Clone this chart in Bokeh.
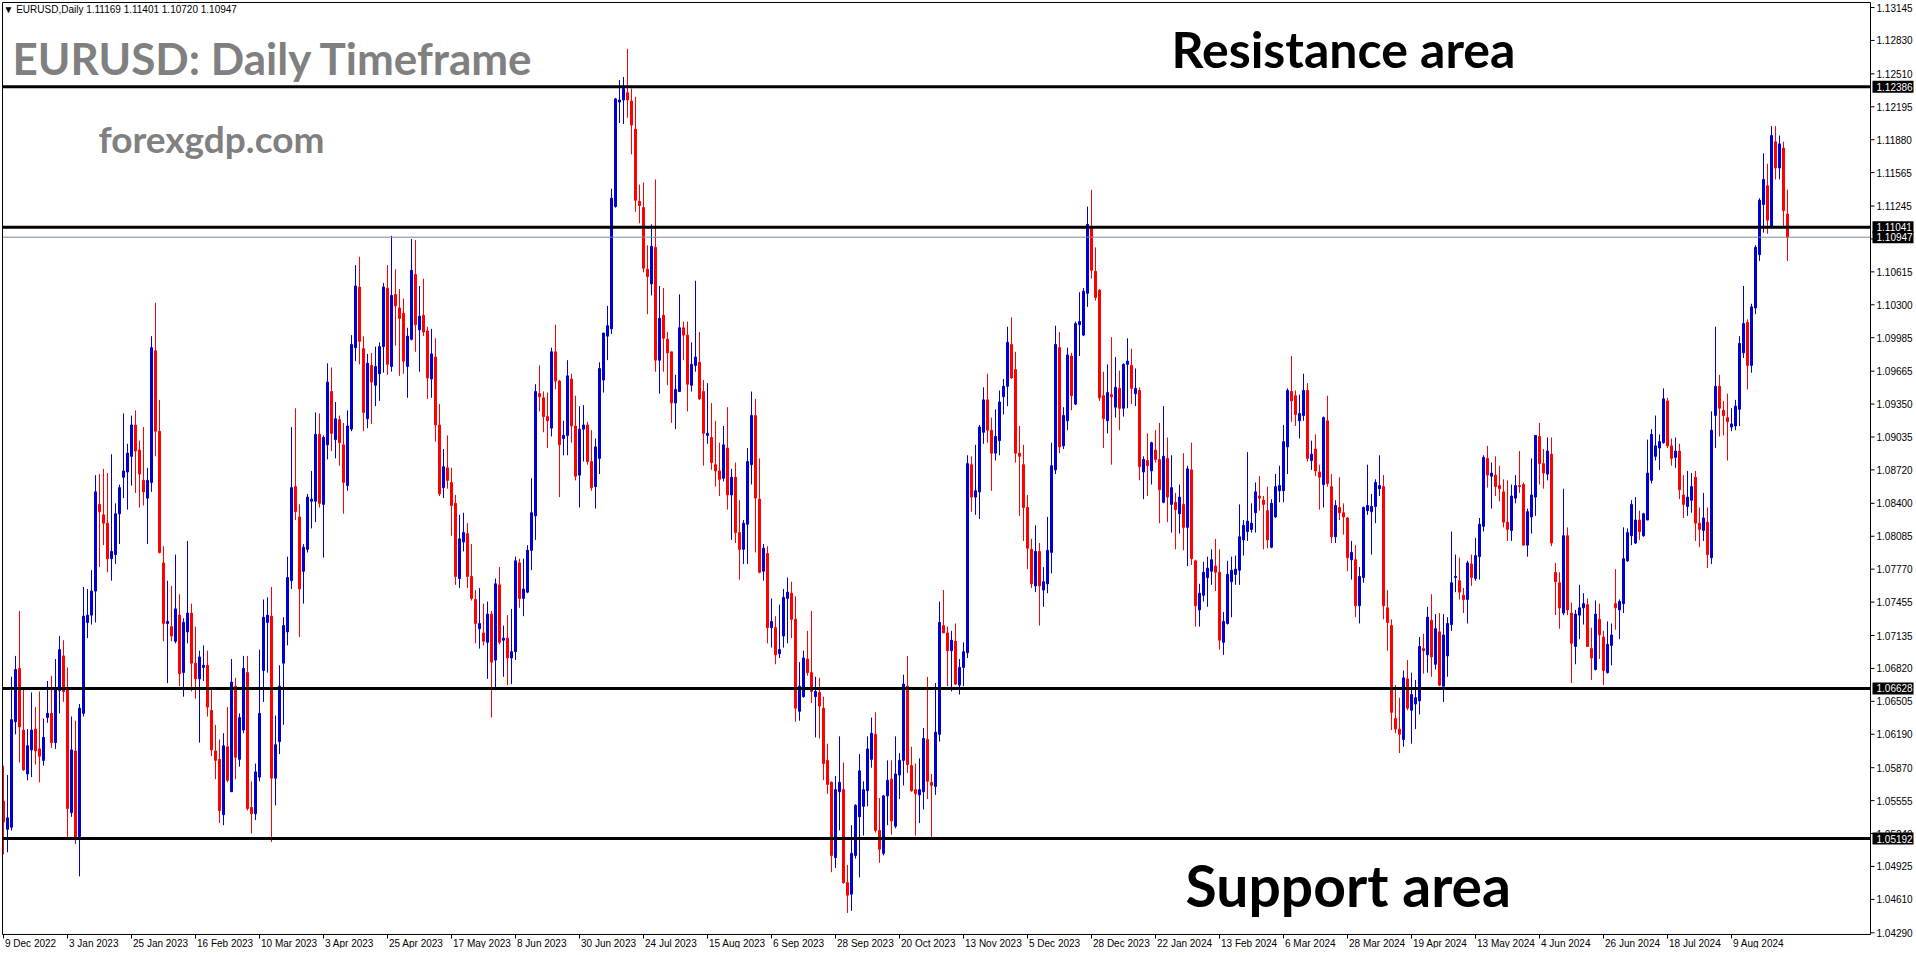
from bokeh.plotting import figure
from bokeh.models import Range1d, Label
from bokeh.embed import file_html
from bokeh.resources import INLINE
from bokeh.core.properties import value

# ---- data ----
opens = [1.0555,1.0528,1.0530,1.0631,1.0682,1.0623,1.0581,1.0604,1.0624,1.0605,1.0594,1.0635,1.0639,1.0611,1.0661,1.0694,1.0663,1.0544,1.0603,1.0521,
1.0639,1.0726,1.0733,1.0756,1.0839,1.0829,1.0821,1.0787,1.0791,1.0830,1.0865,1.0870,1.0885,1.0915,1.0891,1.0862,1.0845,1.0860,1.0986,1.0909,
1.0783,1.0725,1.0722,1.0708,1.0733,1.0678,1.0717,1.0735,1.0687,1.0672,1.0683,1.0685,1.0642,1.0603,1.0595,1.0542,1.0607,1.0564,1.0665,1.0595,
1.0623,1.0678,1.0549,1.0543,1.0578,1.0680,1.0726,1.0732,1.0577,1.0612,1.0687,1.0717,1.0766,1.0856,1.0827,1.0775,1.0796,1.0842,1.0842,1.0906,
1.0839,1.0896,1.0947,1.0901,1.0920,1.0896,1.0857,1.0911,1.0989,1.1047,1.0988,1.0921,1.0972,1.0953,1.0964,1.0990,1.1046,1.0971,1.1040,1.1027,
1.1022,1.0971,1.0997,1.1059,1.1006,1.1020,1.1005,1.0959,1.0980,1.0915,1.0855,1.0874,1.0860,1.0840,1.0768,1.0803,1.0811,1.0770,1.0748,1.0720,
1.0716,1.0707,1.0734,1.0690,1.0762,1.0709,1.0711,1.0692,1.0698,1.0783,1.0749,1.0755,1.0795,1.0828,1.0945,1.0941,1.0923,1.0912,1.0985,1.0957,
1.0902,1.0905,1.0959,1.0914,1.0867,1.0911,1.0915,1.0880,1.0856,1.0883,1.0958,1.1000,1.1007,1.1124,1.1224,1.1226,1.1233,1.1225,1.1198,1.1129,
1.1123,1.1064,1.1050,1.1085,1.0977,1.1020,1.0997,1.0985,1.0936,1.0947,1.1008,1.1001,1.0953,1.0972,1.0975,1.0947,1.0905,1.0903,1.0877,1.0871,
1.0864,1.0893,1.0848,1.0865,1.0812,1.0796,1.0820,1.0877,1.0924,1.0844,1.0775,1.0792,1.0721,1.0721,1.0696,1.0713,1.0749,1.0754,1.0729,1.0641,
1.0655,1.0691,1.0678,1.0655,1.0659,1.0644,1.0594,1.0573,1.0501,1.0564,1.0566,1.0477,1.0466,1.0503,1.0540,1.0550,1.0565,1.0595,1.0619,1.0527,
1.0505,1.0560,1.0576,1.0531,1.0580,1.0594,1.0665,1.0589,1.0566,1.0561,1.0564,1.0614,1.0573,1.0569,1.0619,1.0723,1.0716,1.0699,1.0708,1.0666,
1.0683,1.0697,1.0877,1.0846,1.0851,1.0908,1.0939,1.0910,1.0888,1.0900,1.0942,1.0952,1.0992,1.0968,1.0888,1.0877,1.0836,1.0796,1.0761,1.0794,
1.0757,1.0763,1.0793,1.0872,1.0989,1.0895,1.0919,1.0981,1.0935,1.1011,1.1001,1.1041,1.1104,1.1062,1.1044,1.0943,1.0919,1.0944,1.0932,1.0950,
1.0931,1.0973,1.0972,1.0945,1.0948,1.0870,1.0881,1.0871,1.0891,1.0882,1.0841,1.0883,1.0839,1.0841,1.0830,1.0839,1.0817,1.0872,1.0785,1.0738,
1.0752,1.0769,1.0775,1.0780,1.0774,1.0707,1.0725,1.0765,1.0772,1.0776,1.0805,1.0813,1.0815,1.0831,1.0847,1.0843,1.0833,1.0798,1.0827,1.0852,
1.0852,1.0894,1.0947,1.0943,1.0919,1.0924,1.0948,1.0881,1.0892,1.0870,1.0858,1.0919,1.0856,1.0808,1.0836,1.0831,1.0826,1.0786,1.0786,1.0742,
1.0769,1.0833,1.0832,1.0837,1.0854,1.0856,1.0740,1.0723,1.0634,1.0624,1.0614,1.0672,1.0642,1.0648,1.0651,1.0701,1.0695,1.0728,1.0686,1.0717,
1.0665,1.0694,1.0724,1.0769,1.0766,1.0752,1.0748,1.0782,1.0768,1.0789,1.0818,1.0883,1.0866,1.0867,1.0857,1.0851,1.0822,1.0814,1.0845,1.0857,
1.0858,1.0800,1.0827,1.0846,1.0904,1.0878,1.0868,1.0887,1.0774,1.0764,1.0735,1.0809,1.0735,1.0703,1.0733,1.0740,1.0743,1.0701,1.0681,1.0729,
1.0712,1.0678,1.0704,1.0744,1.0738,1.0744,1.0785,1.0809,1.0802,1.0824,1.0809,1.0824,1.0862,1.0885,1.0893,1.0898,1.0938,1.0895,1.0884,1.0890,
1.0848,1.0837,1.0843,1.0865,1.0821,1.0814,1.0822,1.0788,1.0924,1.0952,1.0929,1.0922,1.0913,1.0914,1.0930,1.0984,1.1013,1.0972,1.1027,1.1078,
1.1126,1.1144,1.1105,1.1186,1.1161,1.1180,1.11169]
highs = [1.0589,1.0580,1.0674,1.0694,1.0737,1.0662,1.0624,1.0659,1.0645,1.0660,1.0634,1.0670,1.0675,1.0691,1.0713,1.0709,1.0683,1.0636,1.0632,1.0648,
1.0760,1.0758,1.0776,1.0867,1.0868,1.0873,1.0869,1.0887,1.0840,1.0858,1.0926,1.0897,1.0924,1.0929,1.0900,1.0913,1.0874,1.1000,1.1032,1.0939,
1.0799,1.0766,1.0761,1.0791,1.0753,1.0730,1.0804,1.0744,1.0722,1.0699,1.0704,1.0699,1.0662,1.0628,1.0614,1.0620,1.0645,1.0691,1.0673,1.0639,
1.0694,1.0694,1.0574,1.0591,1.0700,1.0748,1.0750,1.0760,1.0637,1.0685,1.0731,1.0789,1.0913,1.0931,1.0839,1.0801,1.0849,1.0871,1.0927,1.0926,
1.0905,1.0974,1.0970,1.0937,1.0924,1.0917,1.0929,1.1001,1.1068,1.1076,1.1000,1.0983,1.0984,1.0990,1.0994,1.1051,1.1068,1.1096,1.1064,1.1045,
1.1036,1.1008,1.1093,1.1092,1.1048,1.1055,1.1009,1.1007,1.0998,1.0935,1.0892,1.0905,1.0874,1.0848,1.0829,1.0831,1.0821,1.0801,1.0757,1.0759,
1.0744,1.0746,1.0737,1.0768,1.0779,1.0723,1.0733,1.0739,1.0789,1.0787,1.0787,1.0800,1.0864,1.0954,1.0972,1.0947,1.0946,1.0989,1.1011,1.0958,
1.0919,1.0977,1.0964,1.0943,1.0933,1.0934,1.0918,1.0910,1.0902,1.0975,1.1003,1.1029,1.1141,1.1228,1.1245,1.1248,1.1275,1.1237,1.1229,1.1145,
1.1147,1.1087,1.1107,1.1150,1.1048,1.1046,1.1004,1.0985,1.0963,1.1040,1.1014,1.1014,1.0994,1.1053,1.1004,1.0958,1.0955,1.0936,1.0919,1.0898,
1.0914,1.0932,1.0873,1.0879,1.0843,1.0824,1.0893,1.0947,1.0940,1.0883,1.0801,1.0799,1.0749,1.0732,1.0743,1.0758,1.0769,1.0765,1.0751,1.0688,
1.0699,1.0718,1.0737,1.0674,1.0673,1.0655,1.0610,1.0574,1.0579,1.0617,1.0592,1.0494,1.0532,1.0552,1.0600,1.0574,1.0617,1.0635,1.0640,1.0558,
1.0561,1.0594,1.0594,1.0617,1.0601,1.0676,1.0694,1.0607,1.0591,1.0596,1.0625,1.0674,1.0581,1.0668,1.0746,1.0757,1.0722,1.0718,1.0725,1.0691,
1.0707,1.0886,1.0885,1.0896,1.0915,1.0951,1.0964,1.0922,1.0930,1.0948,1.0959,1.1009,1.1018,1.0985,1.0914,1.0896,1.0848,1.0806,1.0819,1.0802,
1.0779,1.0827,1.0898,1.1010,1.1004,1.0932,1.0989,1.0984,1.1014,1.1042,1.1046,1.1124,1.1140,1.1085,1.1045,1.0966,1.0973,1.0999,1.0980,1.0967,
1.0974,1.0998,1.0988,1.0969,1.0951,1.0885,1.0907,1.0899,1.0910,1.0917,1.0933,1.0903,1.0886,1.0850,1.0858,1.0888,1.0876,1.0898,1.0786,1.0763,
1.0784,1.0789,1.0796,1.0806,1.0796,1.0736,1.0785,1.0789,1.0790,1.0839,1.0824,1.0889,1.0840,1.0860,1.0866,1.0847,1.0856,1.0844,1.0868,1.0876,
1.0915,1.0950,1.0981,1.0948,1.0944,1.0964,1.0955,1.0900,1.0906,1.0877,1.0923,1.0943,1.0868,1.0843,1.0865,1.0840,1.0827,1.0804,1.0800,1.0779,
1.0837,1.0877,1.0849,1.0863,1.0886,1.0867,1.0757,1.0729,1.0666,1.0654,1.0680,1.0690,1.0678,1.0671,1.0712,1.0715,1.0741,1.0753,1.0734,1.0735,
1.0734,1.0731,1.0813,1.0791,1.0788,1.0759,1.0785,1.0791,1.0807,1.0826,1.0886,1.0895,1.0879,1.0885,1.0876,1.0863,1.0862,1.0858,1.0867,1.0890,
1.0860,1.0835,1.0883,1.0905,1.0917,1.0892,1.0903,1.0903,1.0783,1.0774,1.0854,1.0817,1.0745,1.0738,1.0762,1.0754,1.0749,1.0721,1.0747,1.0744,
1.0718,1.0727,1.0725,1.0777,1.0748,1.0817,1.0816,1.0843,1.0846,1.0833,1.0831,1.0901,1.0911,1.0924,1.0906,1.0950,1.0941,1.0902,1.0903,1.0897,
1.0867,1.0871,1.0869,1.0871,1.0836,1.0850,1.0836,1.0928,1.1009,1.0963,1.0938,1.0945,1.0931,1.0939,1.1000,1.1048,1.1016,1.1031,1.1087,1.1132,
1.1175,1.1165,1.1201,1.1201,1.1192,1.1186,1.11401]
lows = [1.0504,1.0506,1.0527,1.0619,1.0592,1.0584,1.0575,1.0578,1.0590,1.0573,1.0589,1.0630,1.0606,1.0605,1.0639,1.0650,1.0520,1.0540,1.0514,1.0483,
1.0636,1.0711,1.0724,1.0726,1.0779,1.0800,1.0774,1.0766,1.0782,1.0801,1.0845,1.0834,1.0857,1.0850,1.0836,1.0838,1.0801,1.0851,1.0885,1.0792,
1.0708,1.0668,1.0708,1.0706,1.0665,1.0655,1.0706,1.0660,1.0653,1.0611,1.0670,1.0636,1.0598,1.0576,1.0534,1.0532,1.0573,1.0564,1.0576,1.0588,
1.0620,1.0546,1.0524,1.0537,1.0574,1.0650,1.0678,1.0516,1.0551,1.0600,1.0628,1.0704,1.0758,1.0824,1.0712,1.0744,1.0793,1.0816,1.0822,1.0836,
1.0788,1.0882,1.0890,1.0883,1.0876,1.0830,1.0852,1.0909,1.0976,1.0973,1.0909,1.0912,1.0916,1.0933,1.0938,1.0965,1.0963,1.0966,1.0991,1.0962,
1.0964,1.0941,1.0996,1.0985,1.0966,1.1000,1.0940,1.0941,1.0899,1.0847,1.0845,1.0854,1.0809,1.0762,1.0759,1.0794,1.0759,1.0747,1.0706,1.0701,
1.0704,1.0672,1.0635,1.0664,1.0705,1.0674,1.0666,1.0667,1.0690,1.0740,1.0732,1.0754,1.0776,1.0805,1.0928,1.0908,1.0893,1.0904,1.0949,1.0846,
1.0886,1.0886,1.0898,1.0862,1.0836,1.0880,1.0877,1.0852,1.0835,1.0868,1.0946,1.0977,1.1002,1.1123,1.1204,1.1203,1.1209,1.1174,1.1119,1.1108,
1.1061,1.1021,1.1039,1.0966,1.0945,1.0966,1.0953,1.0917,1.0911,1.0947,1.0977,1.0928,1.0947,1.0966,1.0939,1.0876,1.0897,1.0872,1.0856,1.0847,
1.0861,1.0834,1.0805,1.0802,1.0767,1.0782,1.0782,1.0858,1.0793,1.0773,1.0766,1.0706,1.0702,1.0686,1.0692,1.0702,1.0706,1.0711,1.0631,1.0632,
1.0654,1.0675,1.0649,1.0616,1.0615,1.0575,1.0562,1.0487,1.0491,1.0527,1.0476,1.0448,1.0450,1.0500,1.0482,1.0522,1.0550,1.0587,1.0525,1.0496,
1.0503,1.0532,1.0523,1.0529,1.0557,1.0570,1.0582,1.0564,1.0522,1.0534,1.0547,1.0557,1.0518,1.0561,1.0612,1.0716,1.0665,1.0660,1.0666,1.0657,
1.0665,1.0692,1.0832,1.0829,1.0825,1.0897,1.0898,1.0852,1.0881,1.0886,1.0925,1.0933,1.0959,1.0879,1.0828,1.0804,1.0777,1.0759,1.0755,1.0723,
1.0741,1.0754,1.0773,1.0868,1.0888,1.0892,1.0910,1.0929,1.0934,1.0981,1.1000,1.1028,1.1055,1.1034,1.0938,1.0893,1.0907,1.0877,1.0922,1.0910,
1.0923,1.0931,1.0935,1.0933,1.0862,1.0844,1.0847,1.0858,1.0879,1.0821,1.0840,1.0822,1.0812,1.0796,1.0811,1.0795,1.0780,1.0781,1.0722,1.0722,
1.0746,1.0741,1.0762,1.0756,1.0700,1.0695,1.0724,1.0731,1.0762,1.0762,1.0790,1.0804,1.0812,1.0812,1.0833,1.0796,1.0797,1.0797,1.0826,1.0841,
1.0841,1.0868,1.0918,1.0914,1.0902,1.0919,1.0880,1.0872,1.0866,1.0834,1.0836,1.0856,1.0802,1.0802,1.0824,1.0810,1.0775,1.0767,1.0731,1.0725,
1.0764,1.0829,1.0791,1.0821,1.0847,1.0729,1.0699,1.0623,1.0620,1.0601,1.0607,1.0642,1.0610,1.0624,1.0638,1.0677,1.0678,1.0674,1.0681,1.0665,
1.0650,1.0674,1.0718,1.0755,1.0748,1.0735,1.0725,1.0761,1.0766,1.0767,1.0813,1.0855,1.0835,1.0847,1.0842,1.0817,1.0804,1.0804,1.0840,1.0850,
1.0800,1.0789,1.0811,1.0828,1.0858,1.0854,1.0862,1.0799,1.0733,1.0720,1.0733,1.0733,1.0668,1.0686,1.0710,1.0724,1.0703,1.0671,1.0680,1.0691,
1.0666,1.0677,1.0685,1.0719,1.0710,1.0735,1.0784,1.0800,1.0801,1.0805,1.0808,1.0824,1.0859,1.0881,1.0872,1.0897,1.0893,1.0876,1.0874,1.0844,
1.0826,1.0828,1.0831,1.0804,1.0798,1.0804,1.0778,1.0782,1.0893,1.0904,1.0905,1.0881,1.0909,1.0910,1.0914,1.0979,1.0949,1.0965,1.1021,1.1072,
1.1099,1.1098,1.1104,1.1150,1.1150,1.1104,1.10720]
closes = [1.0535,1.0539,1.0633,1.0681,1.0626,1.0585,1.0608,1.0623,1.0603,1.0598,1.0616,1.0639,1.0611,1.0662,1.0700,1.0660,1.0548,1.0604,1.0520,1.0644,
1.0732,1.0733,1.0756,1.0851,1.0832,1.0821,1.0787,1.0794,1.0830,1.0855,1.0871,1.0888,1.0915,1.0890,1.0868,1.0851,1.0862,1.0989,1.0909,1.0793,
1.0725,1.0727,1.0713,1.0739,1.0677,1.0726,1.0735,1.0687,1.0672,1.0693,1.0685,1.0645,1.0604,1.0594,1.0546,1.0608,1.0575,1.0669,1.0597,1.0635,
1.0682,1.0548,1.0543,1.0583,1.0639,1.0731,1.0733,1.0577,1.0609,1.0665,1.0723,1.0769,1.0855,1.0832,1.0758,1.0798,1.0846,1.0844,1.0906,1.0840,
1.0903,1.0956,1.0907,1.0921,1.0898,1.0860,1.0914,1.0992,1.1048,1.0995,1.0927,1.0974,1.0956,1.0971,1.0990,1.1047,1.0973,1.1039,1.1029,1.1017,
1.0976,1.1000,1.1063,1.1011,1.1019,1.1004,1.0960,1.0983,1.0915,1.0849,1.0875,1.0862,1.0838,1.0770,1.0806,1.0812,1.0770,1.0749,1.0725,1.0725,
1.0708,1.0734,1.0688,1.0763,1.0707,1.0711,1.0692,1.0698,1.0785,1.0749,1.0758,1.0795,1.0831,1.0947,1.0942,1.0923,1.0919,1.0985,1.0957,1.0896,
1.0905,1.0962,1.0914,1.0866,1.0911,1.0915,1.0880,1.0855,1.0894,1.0969,1.1003,1.1010,1.1132,1.1227,1.1226,1.1237,1.1226,1.1202,1.1130,1.1125,
1.1065,1.1057,1.1086,1.0977,1.1017,1.0998,1.0984,1.0936,1.0949,1.1008,1.1001,1.0954,1.0973,1.0980,1.0940,1.0907,1.0907,1.0879,1.0871,1.0863,
1.0896,1.0848,1.0865,1.0812,1.0796,1.0821,1.0880,1.0924,1.0845,1.0774,1.0797,1.0721,1.0727,1.0695,1.0700,1.0750,1.0755,1.0729,1.0644,1.0665,
1.0692,1.0678,1.0660,1.0660,1.0646,1.0591,1.0571,1.0503,1.0566,1.0573,1.0477,1.0465,1.0505,1.0551,1.0584,1.0566,1.0605,1.0620,1.0527,1.0509,
1.0560,1.0575,1.0536,1.0581,1.0594,1.0667,1.0590,1.0565,1.0562,1.0566,1.0615,1.0574,1.0570,1.0621,1.0726,1.0716,1.0699,1.0709,1.0667,1.0683,
1.0698,1.0878,1.0846,1.0852,1.0913,1.0939,1.0910,1.0888,1.0904,1.0937,1.0952,1.0994,1.0960,1.0888,1.0885,1.0836,1.0797,1.0763,1.0794,1.0761,
1.0765,1.0795,1.0876,1.0992,1.0894,1.0924,1.0982,1.0943,1.1012,1.1014,1.1043,1.1107,1.1063,1.1037,1.0941,1.0921,1.0946,1.0942,1.0951,1.0931,
1.0973,1.0976,1.0950,1.0950,1.0875,1.0882,1.0876,1.0898,1.0882,1.0853,1.0885,1.0846,1.0855,1.0834,1.0846,1.0817,1.0873,1.0787,1.0742,1.0754,
1.0774,1.0778,1.0786,1.0774,1.0709,1.0727,1.0772,1.0776,1.0777,1.0808,1.0819,1.0823,1.0821,1.0851,1.0845,1.0839,1.0805,1.0840,1.0856,1.0857,
1.0899,1.0948,1.0938,1.0925,1.0926,1.0948,1.0883,1.0887,1.0871,1.0865,1.0922,1.0859,1.0808,1.0838,1.0831,1.0827,1.0788,1.0793,1.0742,1.0770,
1.0836,1.0838,1.0837,1.0860,1.0857,1.0742,1.0726,1.0640,1.0624,1.0619,1.0673,1.0644,1.0657,1.0654,1.0703,1.0699,1.0731,1.0693,1.0720,1.0666,
1.0714,1.0725,1.0764,1.0770,1.0755,1.0748,1.0783,1.0769,1.0790,1.0820,1.0884,1.0867,1.0869,1.0856,1.0854,1.0822,1.0815,1.0847,1.0857,1.0856,
1.0800,1.0832,1.0848,1.0905,1.0878,1.0869,1.0890,1.0802,1.0765,1.0740,1.0809,1.0738,1.0706,1.0734,1.0740,1.0744,1.0703,1.0692,1.0734,1.0714,
1.0680,1.0705,1.0714,1.0740,1.0746,1.0787,1.0812,1.0839,1.0824,1.0813,1.0830,1.0869,1.0906,1.0895,1.0899,1.0940,1.0895,1.0883,1.0890,1.0853,
1.0839,1.0846,1.0856,1.0821,1.0815,1.0826,1.0791,1.0910,1.0952,1.0931,1.0924,1.0918,1.0916,1.0933,1.0993,1.1012,1.0972,1.1028,1.1085,1.1130,
1.1150,1.1111,1.1192,1.1161,1.1184,1.1120,1.10947]

date_tick_bars = [0, 16, 32, 48, 64, 80, 96, 112, 128, 144, 160, 176, 192, 208,
                  224, 240, 256, 272, 288, 304, 320, 336, 352, 368, 384, 400, 416, 432]
date_labels = ["9 Dec 2022", "3 Jan 2023", "25 Jan 2023", "16 Feb 2023", "10 Mar 2023",
               "3 Apr 2023", "25 Apr 2023", "17 May 2023", "8 Jun 2023", "30 Jun 2023",
               "24 Jul 2023", "15 Aug 2023", "6 Sep 2023", "28 Sep 2023", "20 Oct 2023",
               "13 Nov 2023", "5 Dec 2023", "28 Dec 2023", "22 Jan 2024", "13 Feb 2024",
               "6 Mar 2024", "28 Mar 2024", "19 Apr 2024", "13 May 2024", "4 Jun 2024",
               "26 Jun 2024", "18 Jul 2024", "9 Aug 2024"]
price_ticks = [1.04290, 1.04610, 1.04925, 1.05240, 1.05555, 1.05870, 1.06190, 1.06505,
               1.06820, 1.07135, 1.07455, 1.07770, 1.08085, 1.08400, 1.08720, 1.09035,
               1.09350, 1.09665, 1.09985, 1.10300, 1.10615, 1.10930, 1.11245, 1.11565,
               1.11880, 1.12195, 1.12510, 1.12830, 1.13145]
level_lines = [1.12386, 1.11041, 1.06628, 1.05192]
bid_price = 1.10947
header_text = "\u25bc EURUSD,Daily  1.11169 1.11401 1.10720 1.10947"

# ---- layout (pixels of the chart window) ----
W, H = 1916, 948
n = len(opens)
PX_X = 4.0                                # px per bar
PX_Y = 0.0000957                          # price per px
x_L, x_R = -0.25, n - 0.25 + 20          # chart window edges in bar units
y_T, y_B = 1.13193, 1.04274               # chart window edges in price
xs0 = x_L - 2.0 / PX_X
ys1 = y_T + 2.0 * PX_Y

UP = "#0000D2"
DOWN = "#FF0000"
bars = list(range(n))
colors = [UP if c >= o else DOWN for o, c in zip(opens, closes)]
tops = [max(o, c) for o, c in zip(opens, closes)]
bots = [min(o, c) for o, c in zip(opens, closes)]

p = figure(width=W, height=H, output_backend="svg", toolbar_location=None,
           x_range=Range1d(xs0, xs0 + W / PX_X), y_range=Range1d(ys1 - H * PX_Y, ys1),
           min_border=0, min_border_left=0, min_border_right=0,
           min_border_top=0, min_border_bottom=0)
p.xaxis.visible = False
p.yaxis.visible = False
p.grid.visible = False
p.outline_line_color = None
p.background_fill_color = "white"
p.border_fill_color = "white"

# candles
p.segment(x0=bars, y0=lows, x1=bars, y1=highs, color=colors, line_width=1)
p.vbar(x=bars, width=0.5, top=tops, bottom=bots, fill_color=colors,
       line_color=colors, line_width=1)

# horizontal levels
p.segment(x0=[x_L] * len(level_lines), y0=level_lines, x1=[x_R] * len(level_lines),
          y1=level_lines, color="black", line_width=3)
p.segment(x0=[x_L], y0=[bid_price], x1=[x_R], y1=[bid_price], color="#778899", line_width=1)

# chart window border
p.segment(x0=[x_L, x_L, x_R, x_L], y0=[y_B, y_T, y_B, y_B],
          x1=[x_L, x_R, x_R, x_R], y1=[y_T, y_T, y_T, y_B], color="black", line_width=1)

# price scale (right)
tick_len = 4.0 / PX_X
p.segment(x0=[x_R] * len(price_ticks), y0=price_ticks, x1=[x_R + tick_len] * len(price_ticks),
          y1=price_ticks, color="black", line_width=1)
p.text(x=[x_R + 6.0 / PX_X] * len(price_ticks), y=price_ticks,
       text=["%.5f" % t for t in price_ticks], text_font=value("Liberation Sans"),
       text_font_size="10px", text_align="left", text_baseline="middle", text_color="black")
box_levels = level_lines + [bid_price]
p.rect(x=[x_R + 22.5 / PX_X] * len(box_levels), y=box_levels, width=41, height=12,
       width_units="screen", height_units="screen", fill_color="black", line_color=None)
p.text(x=[x_R + 6.0 / PX_X] * len(box_levels), y=box_levels,
       text=["%.5f" % t for t in box_levels], text_font=value("Liberation Sans"),
       text_font_size="10px", text_align="left", text_baseline="middle", text_color="white")

# time scale (bottom)
p.segment(x0=date_tick_bars, y0=[y_B] * len(date_tick_bars), x1=date_tick_bars,
          y1=[y_B - 4 * PX_Y] * len(date_tick_bars), color="black", line_width=1)
p.text(x=[b + 1.5 / PX_X for b in date_tick_bars], y=[y_B - 4 * PX_Y] * len(date_tick_bars),
       text=date_labels, text_font=value("Liberation Sans"), text_font_size="10px",
       text_align="left", text_baseline="top", text_color="black")

# texts
p.add_layout(Label(x=x_L + 1.0 / PX_X, y=y_T - 7 * PX_Y, text=header_text, text_align="left",
                   text_baseline="middle", text_font="Liberation Sans",
                   text_font_size="10px", text_color="black"))
p.add_layout(Label(x=2.25, y=1.12660, text="EURUSD: Daily Timeframe", text_align="left",
                   text_baseline="alphabetic", text_font="Lato", text_font_style="bold",
                   text_font_size="44px", text_color="#808080"))
p.add_layout(Label(x=23.75, y=1.11895, text="forexgdp.com", text_align="left",
                   text_baseline="alphabetic", text_font="Lato", text_font_style="bold",
                   text_font_size="37px", text_color="#808080"))
p.add_layout(Label(x=292.0, y=1.12748, text="Resistance area", text_align="left",
                   text_baseline="alphabetic", text_font="Lato", text_font_style="bold",
                   text_font_size="50px", text_color="black"))
p.add_layout(Label(x=295.5, y=1.04750, text="Support area", text_align="left",
                   text_baseline="alphabetic", text_font="Lato", text_font_style="bold",
                   text_font_size="57px", text_color="black"))

open("out.html", "w").write(file_html(p, INLINE))
